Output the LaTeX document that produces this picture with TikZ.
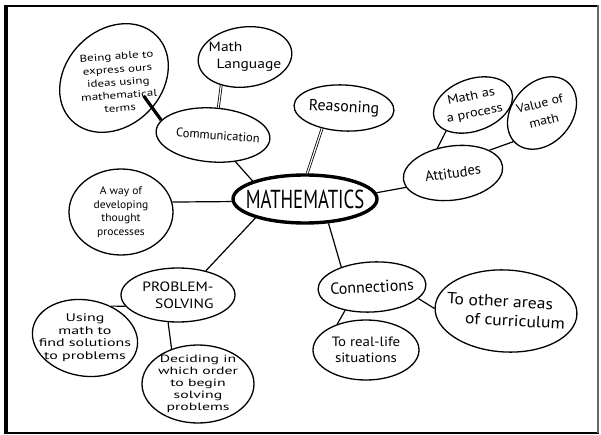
\documentclass[tikz,border=0pt]{standalone}
\usepackage{fontspec}
\setmainfont{PT Sans}
\usetikzlibrary{shapes.geometric}
% handwriting-like widening of a font size
\newcommand{\handfont}[3]{\fontsize{#1}{#2}\selectfont\addfontfeature{FakeStretch=#3}}
\newcommand{\turned}[2]{\rotatebox{#1}{\begin{tabular}{@{}c@{}}#2\end{tabular}}}
\begin{document}
\begin{tikzpicture}[x=1pt,y=-1pt,
  bubble/.style={draw, shape=ellipse, line width=1.3pt, inner sep=-25pt, align=center},
  hub/.style={draw, shape=ellipse, line width=3.4pt, inner sep=-25pt},
  link/.style={line width=1.2pt},
  boldlink/.style={line width=3.2pt},
  twinlink/.style={double, double distance=1.2pt, line width=0.8pt}]
\useasboundingbox (0,0) rectangle (601,435);
% frame
\draw[line width=2.5pt] (4,6) -- (599,6);
\draw[line width=4pt] (6,5) -- (6,433);
\draw[line width=2pt] (4,432.5) -- (599,432.5);
\draw[line width=1.5pt, black!60] (598,5) -- (598,433);

% central topic
\node[hub, minimum width=144pt, minimum height=48pt,
  font=\handfont{26}{26}{0.72}] (math) at (305,199) {MATHEMATICS};

% branches and leaves
\node[bubble, minimum width=114pt, minimum height=54pt, rotate=-4,
  font=\handfont{12.5}{14}{1.0}] (comm) at (213,135) {\hspace*{10pt}Communication};
\node[bubble, minimum width=120pt, minimum height=96pt, rotate=45,
  font=\handfont{10}{13}{1.3}] (being) at (114,78)
  {\rotatebox{-41}{\begin{tabular}{@{\hspace{8pt}}c@{}}
   \rule{0pt}{20pt}Being able to\\express ours\\ideas using\\mathematical\\terms\end{tabular}}};
\node[bubble, minimum width=94pt, minimum height=60pt, rotate=7,
  font=\handfont{13.5}{17}{1.15}] (lang) at (245,57)
  {\rotatebox{-7}{\begin{tabular}{@{}l@{}}Math\\\hspace*{8pt}Language\end{tabular}}};
\node[bubble, minimum width=100pt, minimum height=46pt, rotate=-3,
  font=\handfont{16}{17}{1.0}] (reason) at (344,108) {Reasoning};
\node[bubble, minimum width=82pt, minimum height=52pt, rotate=20,
  font=\handfont{12.5}{17.5}{1.15}] (proc) at (473,105) {\turned{-8}{Math as\\a process}};
\node[bubble, minimum width=80pt, minimum height=60pt, rotate=50,
  font=\handfont{12.5}{17.5}{1.1}] (value) at (542,113)
  {\turned{-36}{Value of\\math}};
\node[bubble, minimum width=100pt, minimum height=54pt, rotate=8,
  font=\handfont{14.5}{16}{1.0}] (att) at (453,173) {Attitudes};
\node[bubble, minimum width=104pt, minimum height=86pt,
  font=\handfont{11}{13.5}{1.05}] (way) at (121,212)
  {A way of\\developing\\thought\\processes};
\node[bubble, minimum width=114pt, minimum height=54pt, align=right,
  font=\handfont{13.5}{17}{1.15}] (prob) at (178,295) {PROBLEM-\\SOLVING};
\node[bubble, minimum width=106pt, minimum height=76pt, rotate=-10,
  font=\handfont{11}{12.5}{1.45}] (using) at (85,338)
  {\turned{10}{Using\\math to\\find solutions\\to problems}};
\node[bubble, minimum width=112pt, minimum height=78pt,
  font=\handfont{10.5}{12}{1.5}] (decide) at (198,384)
  {Deciding in\\which order\\to begin\\solving\\problems};
\node[bubble, minimum width=108pt, minimum height=50pt, rotate=3,
  font=\handfont{16}{17}{1.0}] (conn) at (372,287) {Connections};
\node[bubble, minimum width=142pt, minimum height=82pt, rotate=-3, align=left,
  font=\handfont{16}{19}{1.1}] (other) at (506,311) {To other areas\\\hspace*{19pt}of curriculum};
\node[bubble, minimum width=106pt, minimum height=60pt,
  font=\handfont{13.5}{16}{1.1}] (real) at (366,350) {To real-life\\situations};

% connectors
\draw[link] (math.161) -- (comm.-46);
\draw[boldlink, shorten >=-15pt] (comm.168) -- (being.-83);
\draw[twinlink] (comm.83) -- (lang.-137);
\draw[twinlink] (reason.-134) -- (math.85);
\draw[link] (math.5) -- (att.-171);
\draw[link] (att.114) -- (proc.-156);
\draw[link] (att.24) -- (value.175);
\draw[link] (math.182) -- (way.11);
\draw[link] (math.-159) -- (prob.41);
\draw[link] (prob.-168) -- (using.61);
\draw[link] (prob.-110) -- (decide.127);
\draw[link] (math.-46) -- (conn.144);
\draw[link] (conn.-17) -- (other.181);
\draw[link] (conn.-142) -- (real.138);
\end{tikzpicture}
\end{document}
